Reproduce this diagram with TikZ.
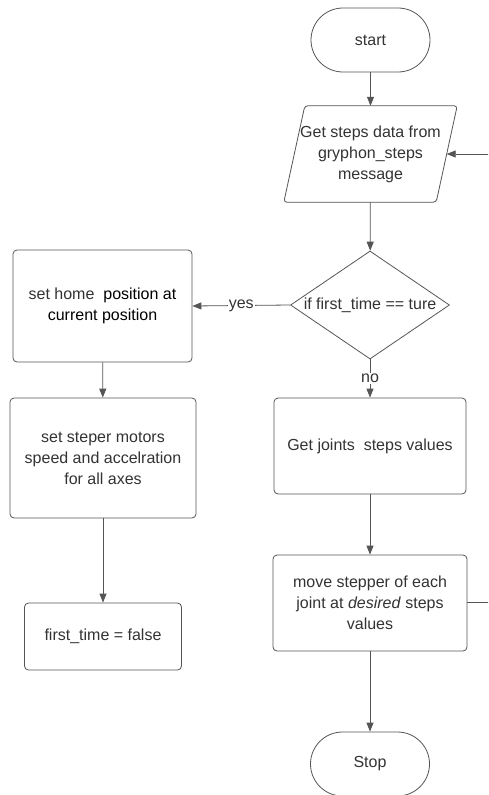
\documentclass[tikz,border=0pt]{standalone}
\usepackage{fontspec}
\setmainfont{Liberation Sans}
\usetikzlibrary{shapes.geometric,arrows.meta,calc}
\definecolor{txt}{HTML}{333333}
\definecolor{ln}{HTML}{555555}
\begin{document}
\begin{tikzpicture}[x=1pt,y=-1pt,
  every node/.style={font=\fontsize{16}{21}\selectfont, text=txt, align=center},
  proc/.style={draw=ln, line width=0.8pt, rounded corners=4pt, inner sep=0pt},
  term/.style={draw=ln, line width=0.8pt, rounded corners=32pt, minimum width=119pt, minimum height=64pt, inner sep=0pt},
  dec/.style={draw=ln, line width=0.8pt, diamond, aspect=1.47, minimum width=159pt, minimum height=108pt, inner sep=0pt},
  conn/.style={draw=ln, line width=0.8pt, -{Triangle[length=9pt,width=7pt]}},
  plain/.style={draw=ln, line width=0.8pt},
  lbl/.style={fill=white, inner sep=1pt}]
\clip (0,0) rectangle (488,795);
\fill[white] (0,0) rectangle (488,795);

\node[term] (start) at (370.5,40) {start};
\node[inner sep=0pt, minimum width=173pt, minimum height=96pt] (in) at (370.5,154) {Get steps data from\\gryphon\_steps\\message};
\draw[plain, rounded corners=3pt] ($(in.north west)+(21,0)$) -- (in.north east) -- ($(in.south east)+(-21,0)$) -- (in.south west) -- cycle;
\coordinate (inR) at ($(in.east)+(-10.5,0)$);

\node[dec] (d) at (370,305) {if first\_time == ture};
\node[proc, minimum width=179pt, minimum height=112pt] (home) at (102.5,306) {{\color{txt}set home}\ \ {\color{black}position at}\\{\color{black}current position}};
\node[proc, minimum width=186pt, minimum height=120pt] (spd) at (103,458) {set steper motors\\speed and accelration\\for all axes};
\node[proc, minimum width=157pt, minimum height=67pt] (ft) at (103,636.5) {first\_time = false};
\node[proc, minimum width=192pt, minimum height=96pt] (gj) at (370,446) {Get joints\ \ steps values};
\node[proc, minimum width=194pt, minimum height=96pt] (mv) at (370,603) {move stepper of each\\joint at \textit{desired} steps\\values};
\node[term] (stop) at (370,764) {Stop};

\coordinate (eR1) at (489,154);
\coordinate (eR2) at (489,602);

\draw[conn] (start) -- (in);
\draw[conn] (in) -- (d);
\draw[conn] (d.west) -- node[lbl] {yes} (home.east);
\draw[conn] (d.south) -- node[lbl, pos=0.5] {no} (gj.north);
\draw[conn] (home) -- (spd);
\draw[conn] (spd) -- (ft);
\draw[conn] (gj) -- (mv);
\draw[conn] (mv) -- (stop);
\draw[plain] (mv.east |- eR2) -- (eR2);
\draw[conn] (eR1) -- (inR);
\end{tikzpicture}
\end{document}
